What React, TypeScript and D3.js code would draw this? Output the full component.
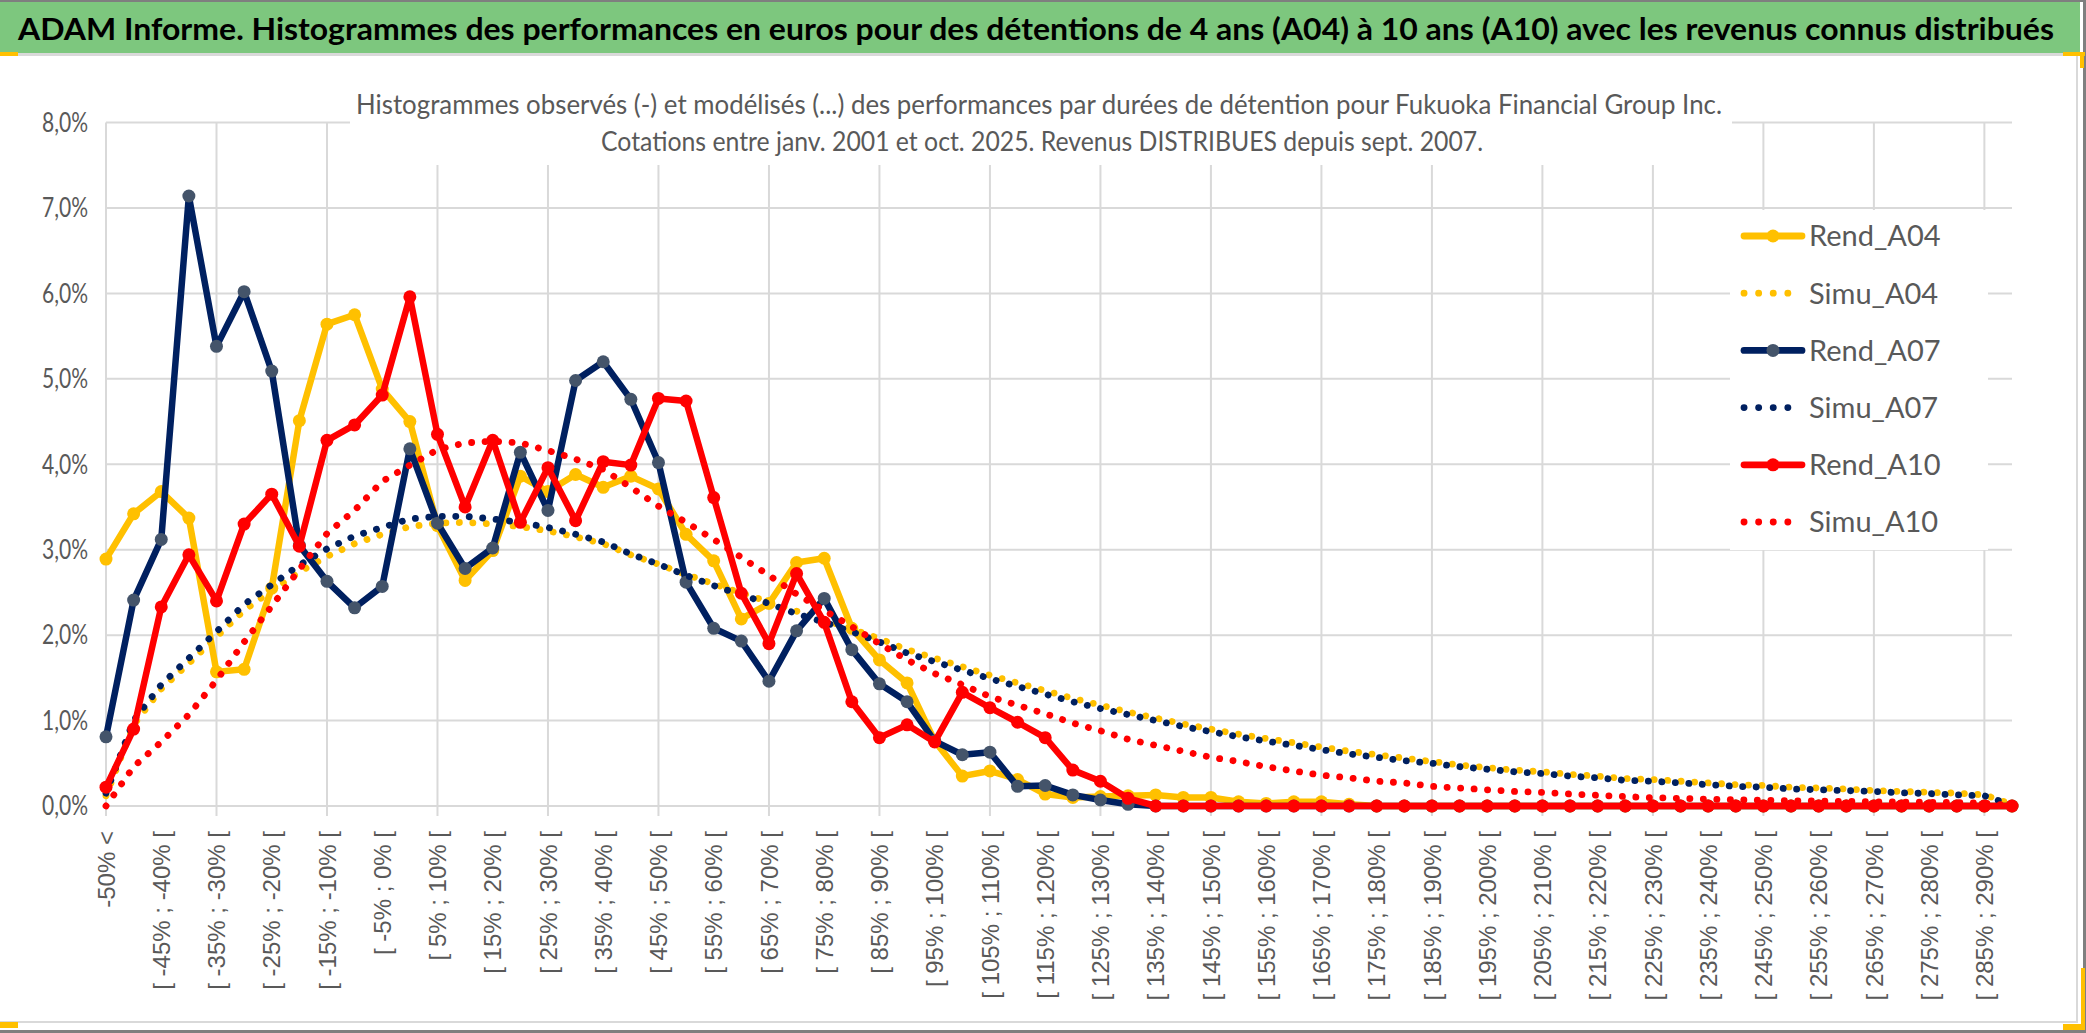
import React from "react";
import * as d3 from "d3";

// categories of the histogram (5% wide bins)
const categories = [
  "-50% <", "[ -50% ; -45% [", "[ -45% ; -40% [", "[ -40% ; -35% [", "[ -35% ; -30% [",
  "[ -30% ; -25% [", "[ -25% ; -20% [", "[ -20% ; -15% [", "[ -15% ; -10% [", "[ -10% ; -5% [",
  "[ -5% ; 0% [", "[ 0% ; 5% [", "[ 5% ; 10% [", "[ 10% ; 15% [", "[ 15% ; 20% [",
  "[ 20% ; 25% [", "[ 25% ; 30% [", "[ 30% ; 35% [", "[ 35% ; 40% [", "[ 40% ; 45% [",
  "[ 45% ; 50% [", "[ 50% ; 55% [", "[ 55% ; 60% [", "[ 60% ; 65% [", "[ 65% ; 70% [",
  "[ 70% ; 75% [", "[ 75% ; 80% [", "[ 80% ; 85% [", "[ 85% ; 90% [", "[ 90% ; 95% [",
  "[ 95% ; 100% [", "[ 100% ; 105% [", "[ 105% ; 110% [", "[ 110% ; 115% [", "[ 115% ; 120% [",
  "[ 120% ; 125% [", "[ 125% ; 130% [", "[ 130% ; 135% [", "[ 135% ; 140% [", "[ 140% ; 145% [",
  "[ 145% ; 150% [", "[ 150% ; 155% [", "[ 155% ; 160% [", "[ 160% ; 165% [", "[ 165% ; 170% [",
  "[ 170% ; 175% [", "[ 175% ; 180% [", "[ 180% ; 185% [", "[ 185% ; 190% [", "[ 190% ; 195% [",
  "[ 195% ; 200% [", "[ 200% ; 205% [", "[ 205% ; 210% [", "[ 210% ; 215% [", "[ 215% ; 220% [",
  "[ 220% ; 225% [", "[ 225% ; 230% [", "[ 230% ; 235% [", "[ 235% ; 240% [", "[ 240% ; 245% [",
  "[ 245% ; 250% [", "[ 250% ; 255% [", "[ 255% ; 260% [", "[ 260% ; 265% [", "[ 265% ; 270% [",
  "[ 270% ; 275% [", "[ 275% ; 280% [", "[ 280% ; 285% [", "[ 285% ; 290% [", "[ 290% ; 295% [",
];

const yTicks = [0, 1, 2, 3, 4, 5, 6, 7, 8];
const yTickLabels = ["0,0%", "1,0%", "2,0%", "3,0%", "4,0%", "5,0%", "6,0%", "7,0%", "8,0%"];

// values in %
const rendA04 = [
  2.89, 3.42, 3.68, 3.37, 1.57, 1.6, 2.55, 4.51, 5.64, 5.75,
  4.88, 4.5, 3.28, 2.64, 2.99, 3.86, 3.68, 3.88, 3.73, 3.86,
  3.71, 3.18, 2.87, 2.19, 2.37, 2.85, 2.9, 2.08, 1.71, 1.44,
  0.76, 0.35, 0.41, 0.31, 0.14, 0.1, 0.11, 0.12, 0.13, 0.1,
  0.1, 0.05, 0.03, 0.05, 0.05, 0.02, 0, 0, 0, 0,
  0, 0, 0, 0, 0, 0, 0, 0, 0, 0,
  0, 0, 0, 0, 0, 0, 0, 0, 0, 0,
];
const simuA04 = [
  0.12, 0.95, 1.37, 1.67, 1.98, 2.29, 2.52, 2.74, 2.92, 3.07,
  3.18, 3.27, 3.31, 3.32, 3.3, 3.27, 3.22, 3.15, 3.07, 2.94,
  2.83, 2.71, 2.6, 2.49, 2.39, 2.28, 2.18, 2.07, 1.96, 1.83,
  1.73, 1.63, 1.53, 1.44, 1.35, 1.26, 1.18, 1.1, 1.03, 0.96,
  0.9, 0.84, 0.79, 0.74, 0.69, 0.64, 0.6, 0.56, 0.52, 0.48,
  0.45, 0.42, 0.4, 0.37, 0.35, 0.32, 0.31, 0.29, 0.27, 0.25,
  0.24, 0.22, 0.21, 0.2, 0.18, 0.17, 0.16, 0.15, 0.13, 0.02,
];
const rendA07 = [
  0.81, 2.41, 3.12, 7.14, 5.38, 6.02, 5.09, 3.05, 2.63, 2.32,
  2.57, 4.18, 3.31, 2.78, 3.02, 4.14, 3.46, 4.98, 5.2, 4.76,
  4.02, 2.62, 2.08, 1.93, 1.46, 2.05, 2.43, 1.83, 1.43, 1.22,
  0.76, 0.6, 0.63, 0.23, 0.24, 0.13, 0.07, 0.02, 0, 0,
  0, 0, 0, 0, 0, 0, 0, 0, 0, 0,
  0, 0, 0, 0, 0, 0, 0, 0, 0, 0,
  0, 0, 0, 0, 0, 0, 0, 0, 0, 0,
];
const simuA07 = [
  0.15, 1.0, 1.42, 1.73, 2.04, 2.36, 2.59, 2.82, 3.01, 3.16,
  3.26, 3.36, 3.39, 3.39, 3.36, 3.32, 3.26, 3.18, 3.09, 2.95,
  2.83, 2.7, 2.58, 2.47, 2.37, 2.25, 2.15, 2.04, 1.92, 1.79,
  1.69, 1.59, 1.49, 1.4, 1.31, 1.22, 1.14, 1.07, 1.0, 0.93,
  0.87, 0.81, 0.76, 0.71, 0.66, 0.61, 0.57, 0.53, 0.5, 0.46,
  0.43, 0.4, 0.38, 0.35, 0.33, 0.3, 0.29, 0.27, 0.25, 0.23,
  0.22, 0.2, 0.19, 0.18, 0.17, 0.155, 0.145, 0.13, 0.12, 0.01,
];
const rendA10 = [
  0.22, 0.9, 2.33, 2.94, 2.4, 3.3, 3.65, 3.04, 4.28, 4.46,
  4.81, 5.96, 4.35, 3.5, 4.28, 3.32, 3.96, 3.34, 4.03, 3.99,
  4.77, 4.74, 3.61, 2.49, 1.9, 2.72, 2.15, 1.22, 0.8, 0.95,
  0.75, 1.33, 1.15, 0.98, 0.8, 0.42, 0.29, 0.09, 0, 0,
  0, 0, 0, 0, 0, 0, 0, 0, 0, 0,
  0, 0, 0, 0, 0, 0, 0, 0, 0, 0,
  0, 0, 0, 0, 0, 0, 0, 0, 0, 0,
];
const simuA10 = [
  0.0, 0.46, 0.75, 1.07, 1.47, 1.92, 2.34, 2.77, 3.19, 3.46,
  3.8, 3.99, 4.17, 4.25, 4.27, 4.25, 4.16, 4.06, 3.94, 3.73,
  3.51, 3.32, 3.12, 2.91, 2.7, 2.48, 2.29, 2.1, 1.9, 1.71,
  1.55, 1.42, 1.28, 1.18, 1.08, 0.97, 0.88, 0.78, 0.71, 0.64,
  0.57, 0.52, 0.46, 0.41, 0.36, 0.33, 0.29, 0.27, 0.23, 0.21,
  0.19, 0.17, 0.16, 0.14, 0.125, 0.11, 0.097, 0.089, 0.08, 0.074,
  0.068, 0.062, 0.058, 0.054, 0.05, 0.046, 0.043, 0.04, 0.035, 0.0,
];

const seriesNames = ["Rend_A04", "Simu_A04", "Rend_A07", "Simu_A07", "Rend_A10", "Simu_A10"];

const series = [
  { name: seriesNames[0], values: rendA04, color: "#FFC000", marker: "#FFC000", dotted: false },
  { name: seriesNames[1], values: simuA04, color: "#FFC000", marker: "", dotted: true },
  { name: seriesNames[2], values: rendA07, color: "#002060", marker: "#44546A", dotted: false },
  { name: seriesNames[3], values: simuA07, color: "#002060", marker: "", dotted: true },
  { name: seriesNames[4], values: rendA10, color: "#FF0000", marker: "#FF0000", dotted: false },
  { name: seriesNames[5], values: simuA10, color: "#FF0000", marker: "", dotted: true },
];

const W = 2086;
const H = 1033;
const plot = { left: 106, right: 2012, top: 122.5, bottom: 806 };
const grid = "#D9D9D9";
const textGrey = "#595959";

export default function App() {
  const x = d3.scalePoint<string>().domain(categories).range([plot.left, plot.right]);
  const y = d3.scaleLinear().domain([0, 8]).range([plot.bottom, plot.top]);
  const line = d3
    .line<number>()
    .x((_, i) => x(categories[i]) as number)
    .y((d) => y(d));

  const legendTop = 236;
  const legendStep = 57.2;

  return (
    <svg
      width={W}
      height={H}
      style={{ position: "absolute", left: 0, top: 0, display: "block", background: "#fff" }}
    >
      <rect x={0} y={0} width={W} height={H} fill="#fff" />

      {/* banner */}
      <rect x={0} y={0} width={W} height={2} fill="#7F7F7F" />
      <rect x={0} y={2} width={2080} height={51} fill="#7DC77E" />
      <rect x={0} y={53} width={2080} height={3} fill={grid} />
      <text
        x={18}
        y={40}
        fontFamily="Lato, sans-serif"
        fontWeight="bold"
        fontSize={31}
        fill="#000"
        textLength={2036}
        lengthAdjust="spacingAndGlyphs"
      >
        ADAM Informe. Histogrammes des performances en euros pour des détentions de 4 ans (A04) à 10 ans (A10) avec les revenus connus distribués
      </text>

      {/* frame */}
      <rect x={2076} y={56} width={2} height={967} fill={grid} />
      <rect x={0} y={1021} width={2078} height={2} fill={grid} />
      <rect x={0} y={1030} width={W} height={3} fill="#7F7F7F" />
      <rect x={2083} y={0} width={3} height={H} fill="#7F7F7F" />
      <rect x={0} y={52} width={18} height={4} fill="#FFC000" />
      <rect x={0} y={1022} width={18} height={6} fill="#FFC000" />
      <rect x={2063} y={52} width={22} height={4} fill="#FFC000" />
      <rect x={2080} y={52} width={4} height={16} fill="#FFC000" />
      <rect x={2081} y={968} width={4} height={62} fill="#FFC000" />
      <rect x={2063} y={1024} width={22} height={6} fill="#FFC000" />

      {/* gridlines */}
      {yTicks.map((t) => (
        <line key={"h" + t} x1={plot.left} x2={plot.right} y1={y(t)} y2={y(t)} stroke={grid} strokeWidth={2} />
      ))}
      {categories
        .filter((_, i) => i % 4 === 0)
        .map((c) => (
          <line key={"v" + c} x1={x(c)} x2={x(c)} y1={plot.top} y2={plot.bottom + 10} stroke={grid} strokeWidth={2} />
        ))}

      {/* chart title */}
      <rect x={350} y={90} width={1382} height={75} fill="#fff" />
      <text
        x={1039}
        y={114}
        textAnchor="middle"
        fontFamily="Lato, sans-serif"
        fontSize={26}
        fill={textGrey}
        textLength={1366}
        lengthAdjust="spacingAndGlyphs"
      >
        Histogrammes observés (-) et modélisés (...) des performances par durées de détention pour Fukuoka Financial Group Inc.
      </text>
      <text
        x={1042}
        y={151}
        textAnchor="middle"
        fontFamily="Lato, sans-serif"
        fontSize={26}
        fill={textGrey}
        textLength={882}
        lengthAdjust="spacingAndGlyphs"
      >
        Cotations entre janv. 2001 et oct. 2025. Revenus DISTRIBUES depuis sept. 2007.
      </text>

      {/* y axis labels */}
      {yTicks.map((t, i) => (
        <text
          key={"yl" + t}
          x={88}
          y={y(t)}
          dy="0.36em"
          textAnchor="end"
          fontFamily="Lato, sans-serif"
          fontSize={26}
          fill={textGrey}
          textLength={46}
          lengthAdjust="spacingAndGlyphs"
        >
          {yTickLabels[i]}
        </text>
      ))}

      {/* x axis labels */}
      {categories.map((c, i) =>
        i % 2 === 0 ? (
          <text
            key={"xl" + c}
            transform={`translate(${x(c)},831) rotate(-90)`}
            dy="0.36em"
            textAnchor="end"
            fontFamily="'Liberation Sans', Arial, sans-serif"
            fontSize={24}
            fill={textGrey}
          >
            {c}
          </text>
        ) : null
      )}

      {/* legend box */}
      <rect x={1730} y={210} width={258} height={340} fill="#fff" />

      {/* series */}
      {series.map((s) => (
        <g key={s.name}>
          <path
            d={line(s.values) || ""}
            fill="none"
            stroke={s.color}
            strokeWidth={s.dotted ? 6.8 : 6.5}
            strokeLinejoin="round"
            strokeLinecap="round"
            strokeDasharray={s.dotted ? "0.1 13.4" : undefined}
          />
          {!s.dotted &&
            s.values.map((v, i) => (
              <circle key={i} cx={x(categories[i])} cy={y(v)} r={6.5} fill={s.marker} />
            ))}
        </g>
      ))}

      {/* legend */}
      {series.map((s, i) => {
        const ly = legendTop + i * legendStep;
        return (
          <g key={"lg" + s.name}>
            <line
              x1={1744}
              x2={1802}
              y1={ly}
              y2={ly}
              stroke={s.color}
              strokeWidth={6.8}
              strokeLinecap="round"
              strokeDasharray={s.dotted ? "0.1 14.5" : undefined}
            />
            {!s.dotted && <circle cx={1773} cy={ly} r={6.5} fill={s.marker} />}
            <text
              x={1809}
              y={ly}
              dy="0.36em"
              fontFamily="Lato, sans-serif"
              fontSize={29}
              fill={textGrey}
            >
              {s.name}
            </text>
          </g>
        );
      })}
    </svg>
  );
}
